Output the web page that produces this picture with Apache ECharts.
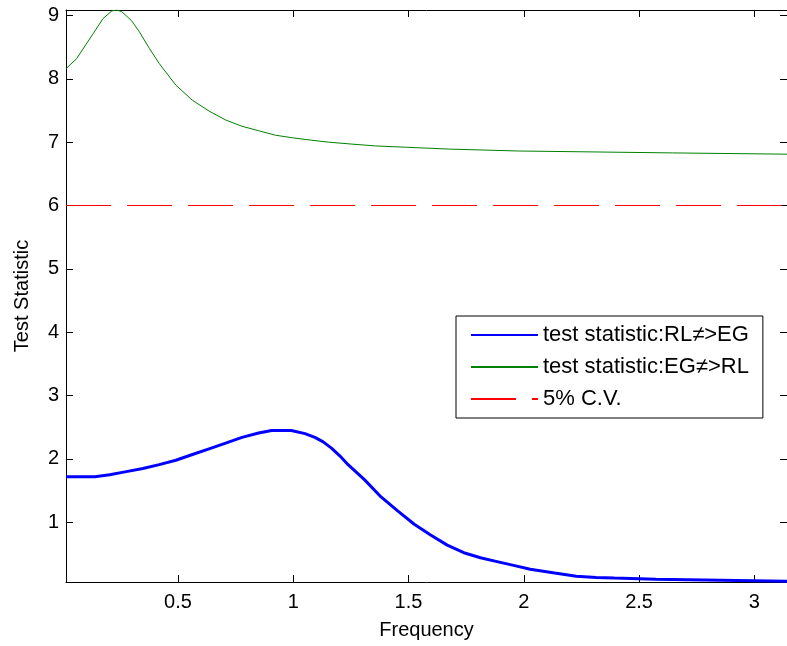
<!DOCTYPE html>
<html>
<head>
<meta charset="utf-8">
<script src="https://cdn.jsdelivr.net/npm/echarts@6/dist/echarts.min.js"></script>
<style>
  html, body { margin: 0; padding: 0; background: #fff; }
  #main { width: 787px; height: 646px; }
</style>
</head>
<body>
<div id="main"></div>
<script>
// values
var xTicks = [0.5, 1, 1.5, 2, 2.5, 3];
var yTicks = [1, 2, 3, 4, 5, 6, 7, 8, 9];

var blueFreq = [0.015, 0.140, 0.204, 0.276, 0.348, 0.419, 0.491, 0.563, 0.635, 0.707, 0.778, 0.850, 0.906, 0.992,
  1.051, 1.094, 1.130, 1.166, 1.202, 1.238, 1.310, 1.381, 1.453, 1.525, 1.596, 1.668, 1.740, 1.812, 1.884, 1.956, 2.028,
  2.134, 2.228, 2.314, 2.392, 2.400, 2.573, 2.581, 3.1416];
var blueVal = [1.72, 1.72, 1.75, 1.80, 1.85, 1.91, 1.98, 2.07, 2.16, 2.25, 2.34, 2.41, 2.45, 2.45,
  2.40, 2.34, 2.27, 2.17, 2.05, 1.91, 1.67, 1.40, 1.18, 0.97, 0.80, 0.64, 0.52, 0.44, 0.38, 0.32, 0.26,
  0.20, 0.15, 0.13, 0.12, 0.11, 0.10, 0.08, 0.07];

var greenFreq = [0.015, 0.061, 0.132, 0.175, 0.213, 0.234, 0.256, 0.298, 0.333, 0.376, 0.419, 0.491, 0.563,
  0.635, 0.707, 0.778, 0.850, 0.922, 0.994, 1.080, 1.152, 1.251, 1.358, 1.487, 1.677, 1.978, 2.646, 3.1416];
var greenVal = [8.16, 8.32, 8.71, 8.95, 9.07, 9.085, 9.06, 8.92, 8.74, 8.48, 8.24, 7.90, 7.66,
  7.49, 7.35, 7.25, 7.18, 7.11, 7.07, 7.03, 7.00, 6.97, 6.94, 6.92, 6.89, 6.86, 6.83, 6.81];

var cvFreq = [0.015, 3.1416];
var cvVal = [6, 6];

var names = ['test statistic:RL\u2260>EG', 'test statistic:EG\u2260>RL', '5% C.V.'];

function pairs(xs, ys) {
  return xs.map(function (x, i) { return [x, ys[i]]; });
}

var myChart = echarts.init(document.getElementById('main'));
var font = 'Liberation Sans, Arial, sans-serif';
var xMin = 0.0146, xMax = Math.PI, yMin = 0.058, yMax = 9.0854;

function axisBase(show) {
  return {
    type: 'value',
    axisLine: { show: true, onZero: false, lineStyle: { color: '#000', width: 1 } },
    axisTick: { show: true, inside: true, length: 7, lineStyle: { color: '#000' } },
    axisLabel: { show: show, color: '#000', fontSize: 20, fontFamily: font },
    splitLine: { show: false }
  };
}

var xBottom = axisBase(true);
xBottom.position = 'bottom';
xBottom.min = xMin; xBottom.max = xMax;
xBottom.axisTick.customValues = xTicks;
xBottom.axisLabel.customValues = xTicks;
xBottom.axisLabel.margin = 10;
xBottom.name = 'Frequency';
xBottom.nameLocation = 'middle';
xBottom.nameGap = 38;
xBottom.nameTextStyle = { color: '#000', fontSize: 20, fontFamily: font };

var xTop = axisBase(false);
xTop.position = 'top';
xTop.min = xMin; xTop.max = xMax;
xTop.axisTick.customValues = xTicks;

var yLeft = axisBase(true);
yLeft.position = 'left';
yLeft.min = yMin; yLeft.max = yMax;
yLeft.axisTick.customValues = yTicks;
yLeft.axisLabel.customValues = yTicks;
yLeft.axisLabel.margin = 7;
yLeft.name = 'Test Statistic';
yLeft.nameLocation = 'middle';
yLeft.nameGap = 34;
yLeft.nameTextStyle = { color: '#000', fontSize: 20, fontFamily: font };

var yRight = axisBase(false);
yRight.position = 'right';
yRight.min = yMin; yRight.max = yMax;
yRight.axisTick.customValues = yTicks;

var option = {
  animation: false,
  backgroundColor: '#fff',
  grid: { left: 66, right: -5, top: 10, bottom: 64 },
  xAxis: [xBottom, xTop],
  yAxis: [yLeft, yRight],
  legend: {
    orient: 'vertical',
    left: 456,
    top: 316,
    backgroundColor: '#fff',
    borderColor: '#000',
    borderWidth: 1,
    borderRadius: 0,
    padding: [8, 14, 8, 14],
    itemWidth: 67,
    itemHeight: 14,
    itemGap: 10,
    itemStyle: { opacity: 0 },
    textStyle: { color: '#000', fontSize: 22, lineHeight: 22, fontFamily: font },
    data: names
  },
  series: [
    {
      name: names[0], type: 'line', symbol: 'none', z: 4,
      lineStyle: { color: '#0000ff', width: 3 }, itemStyle: { color: '#0000ff' },
      data: pairs(blueFreq, blueVal)
    },
    {
      name: names[1], type: 'line', symbol: 'none', z: 3,
      lineStyle: { color: '#008000', width: 1 }, itemStyle: { color: '#008000' },
      data: pairs(greenFreq, greenVal)
    },
    {
      name: names[2], type: 'line', symbol: 'none', z: 2,
      lineStyle: { color: '#ff0000', width: 1, type: [45, 16] }, itemStyle: { color: '#ff0000' },
      data: pairs(cvFreq, cvVal)
    }
  ]
};
myChart.setOption(option);
</script>
</body>
</html>
